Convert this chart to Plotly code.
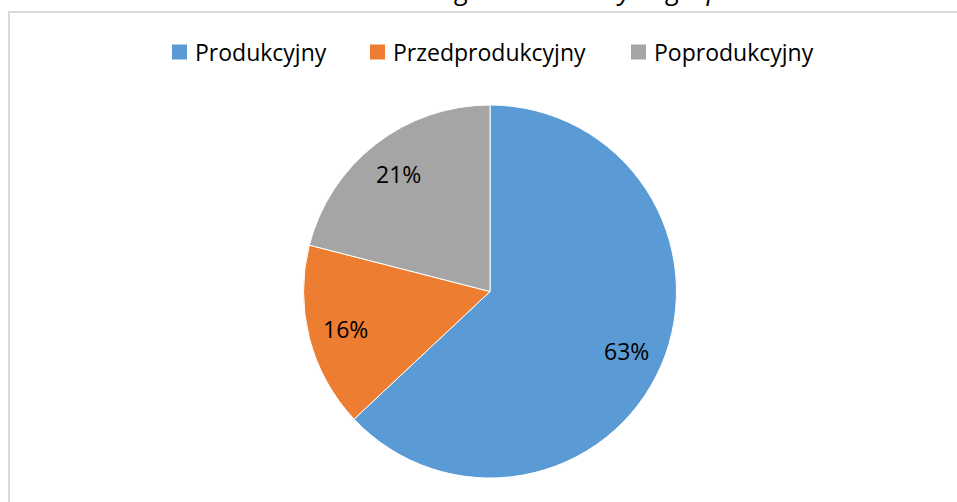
import math
import plotly.graph_objects as go

# Ludność wg ekonomicznych grup wieku
categories = ["Produkcyjny", "Przedprodukcyjny", "Poprodukcyjny"]
shares = [63, 16, 21]
colors = ["#5B9BD5", "#ED7D31", "#A5A5A5"]
title_text = "Struktura ludności według ekonomicznych grup wieku"

W, H = 957, 502

# pie placement in pixels (left, right, bottom, top measured from bottom-left)
pie_x = [303, 677]
pie_y = [24, 397]
# left edge of each legend square
legend_x = [172, 370, 631]
legend_y = 52

fig = go.Figure(
    go.Pie(
        labels=categories,
        values=shares,
        sort=False,
        direction="clockwise",
        rotation=0,
        marker=dict(colors=colors, line=dict(color="#ffffff", width=1)),
        textinfo="none",
        domain=dict(x=[pie_x[0] / W, pie_x[1] / W], y=[pie_y[0] / H, pie_y[1] / H]),
        hoverinfo="label+percent",
        showlegend=False,
    )
)

# percentage labels, Excel style (placed at ~80% of the radius)
cx = sum(pie_x) / 2
cy = sum(pie_y) / 2
r = (pie_y[1] - pie_y[0]) / 2
total = sum(shares)
cum = 0
for s in shares:
    mid = (cum + s / 2) / total * 2 * math.pi
    cum += s
    fig.add_annotation(
        text=f"{round(s / total * 100)}%",
        xref="paper",
        yref="paper",
        x=(cx + 0.8 * r * math.sin(mid)) / W,
        y=(cy + 0.8 * r * math.cos(mid)) / H,
        xanchor="center",
        yanchor="middle",
        showarrow=False,
        font=dict(family="Open Sans", size=23, color="#000000"),
    )

# legend drawn by hand so it matches the Excel look
for name, col, lx in zip(categories, colors, legend_x):
    fig.add_shape(
        type="rect",
        xref="paper",
        yref="paper",
        x0=lx / W,
        x1=(lx + 15) / W,
        y0=(H - legend_y - 7.5) / H,
        y1=(H - legend_y + 7.5) / H,
        fillcolor=col,
        line=dict(width=0),
    )
    fig.add_annotation(
        text=name,
        xref="paper",
        yref="paper",
        x=(lx + 21) / W,
        y=(H - legend_y) / H,
        xanchor="left",
        yanchor="middle",
        showarrow=False,
        font=dict(family="Open Sans", size=23, color="#000000"),
    )

# frame of the pasted chart (cut at top, right and bottom)
fig.add_shape(
    type="rect",
    xref="paper",
    yref="paper",
    x0=9 / W,
    x1=1.02,
    y0=-0.02,
    y1=(H - 12) / H,
    line=dict(color="#d9d9d9", width=2),
)

# title, cut by the top edge like in the source screenshot
fig.add_annotation(
    text="<i>" + title_text + "</i>",
    xref="paper",
    yref="paper",
    x=478 / W,
    y=(H - 8.5) / H,
    xanchor="center",
    yanchor="bottom",
    showarrow=False,
    borderpad=0,
    font=dict(family="Open Sans", size=27, color="#000000"),
)

fig.update_layout(
    width=W,
    height=H,
    margin=dict(l=0, r=0, t=0, b=0),
    paper_bgcolor="#ffffff",
    plot_bgcolor="#ffffff",
    showlegend=False,
)

fig.write_html(
    "out.html",
    config={"displayModeBar": False},
    post_script="document.body.style.margin='0';document.body.style.overflow='hidden';",
)
